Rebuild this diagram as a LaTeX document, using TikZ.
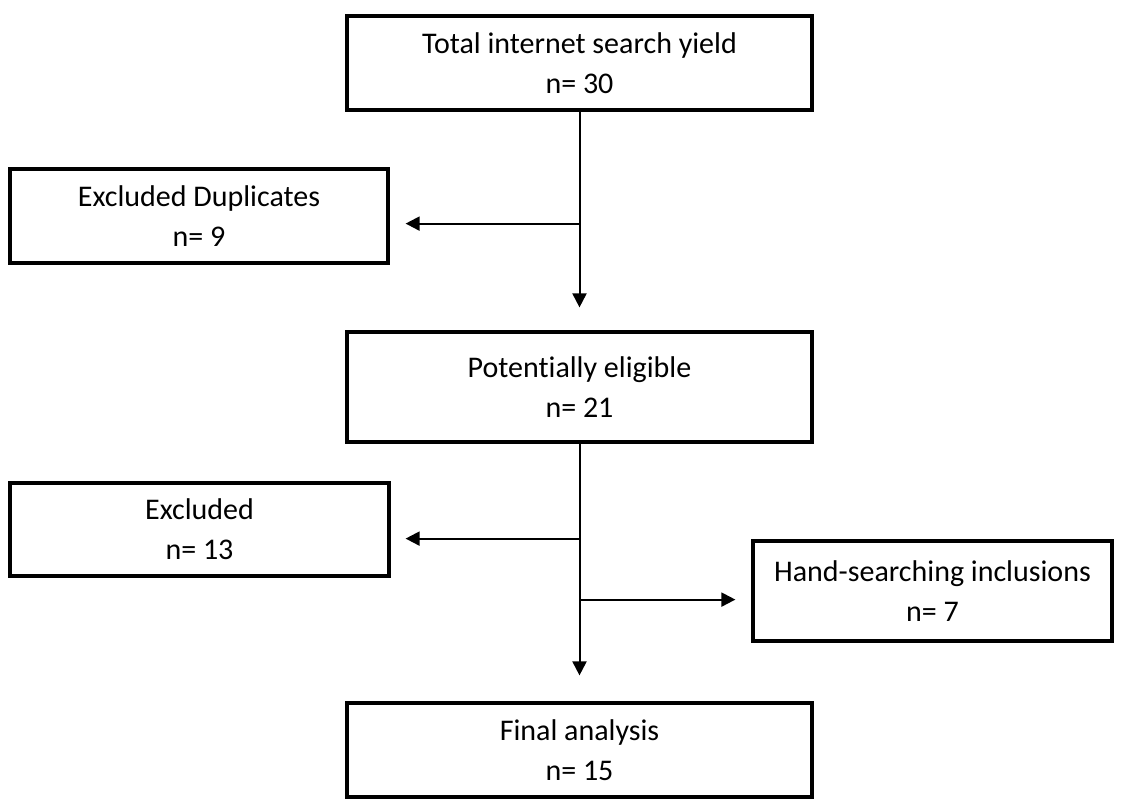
\documentclass[tikz,border=0pt]{standalone}
\usepackage{fontspec}
\setmainfont{Carlito}[Ligatures=NoCommon]
\usetikzlibrary{arrows.meta, positioning}

\begin{document}
\begin{tikzpicture}[x=1pt,y=-1pt,
  box/.style={draw,line width=3.2pt,align=center,inner sep=0pt,font=\fontsize{30}{40}\selectfont},
  arr/.style={line width=2pt,-{Triangle[length=14pt,width=14pt]}}]
\useasboundingbox (0,0) rectangle (1122,800);
% boxes
\node[box,minimum width=465pt,minimum height=94pt] (total) at (579.5,63) {Total internet search yield\\n= 30};
\node[box,minimum width=378pt,minimum height=94pt] (dupl) at (199,216) {Excluded Duplicates\\n= 9};
\node[box,minimum width=465pt,minimum height=110pt] (elig) at (579.5,387) {Potentially eligible\\n= 21};
\node[box,minimum width=379pt,minimum height=93pt] (excl) at (199.5,529.5) {Excluded\\n= 13};
\node[box,minimum width=359pt,minimum height=100pt] (hand) at (932.5,591) {Hand-searching inclusions\\n= 7};
\node[box,minimum width=465pt,minimum height=94pt] (final) at (579.5,750) {Final analysis\\n= 15};
% branch points
\coordinate[below=112pt of total.south] (s1);
\coordinate[below=95pt of elig.south] (s2);
\coordinate[below=156pt of elig.south] (s3);
% connectors
\draw[arr,shorten >=23pt] (total) -- (elig);
\draw[arr,shorten >=26pt] (elig) -- (final);
\draw[arr,shorten >=16pt] (s1) -- (s1 -| dupl.east);
\draw[arr,shorten >=15pt] (s2) -- (s2 -| excl.east);
\draw[arr,shorten >=16pt] (s3) -- (s3 -| hand.west);
\end{tikzpicture}
\end{document}
